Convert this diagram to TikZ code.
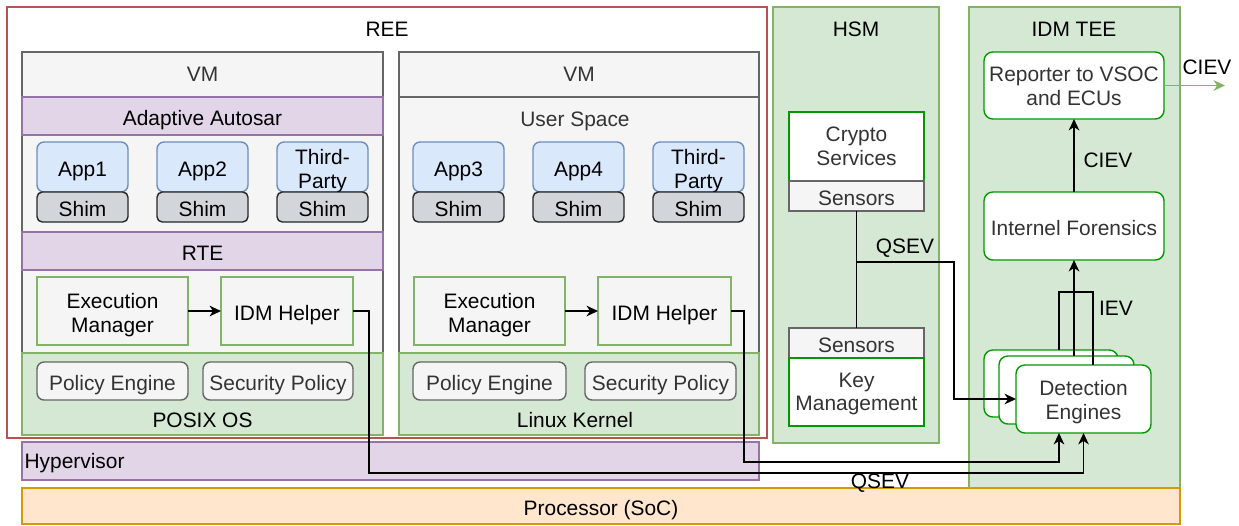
\documentclass[tikz,border=0pt]{standalone}
\usepackage{fontspec}
\setmainfont{Liberation Sans}
\usetikzlibrary{arrows.meta,positioning,calc}
\definecolor{reeline}{HTML}{B85450}
\definecolor{vmfill}{HTML}{F5F5F5}
\definecolor{vmline}{HTML}{666666}
\definecolor{purpfill}{HTML}{E1D5E7}
\definecolor{purpline}{HTML}{9673A6}
\definecolor{grnfill}{HTML}{D5E8D4}
\definecolor{grnline}{HTML}{82B366}
\definecolor{appfill}{HTML}{DAE8FC}
\definecolor{appline}{HTML}{6C8EBF}
\definecolor{shimfill}{HTML}{D2D6DB}
\definecolor{orgfill}{HTML}{FFE6CC}
\definecolor{orgline}{HTML}{D79B00}
\definecolor{hsmline}{HTML}{009900}
\definecolor{txtgray}{HTML}{333333}

% two centred lines, first one lifted by #1
\newcommand\twolines[3][6.8pt]{%
  \makebox[0pt]{\raisebox{#1}[0pt][0pt]{#2}}%
  \makebox[0pt]{\raisebox{\dimexpr#1-13.4pt\relax}[0pt][0pt]{#3}}}

\tikzset{
  every node/.style={font=\fontsize{11.9}{13.6}\selectfont,inner sep=0pt,outer sep=0pt},
  txt/.style={execute at begin node={\rule[-2.5pt]{0pt}{15.7pt}},
              execute at end node={\rule[-2.5pt]{0pt}{2.5pt}}},
  sz/.style 2 args={minimum width=#1*0.02cm,minimum height=#2*0.02cm},
  vmbox/.style={txt,draw=vmline,fill=vmfill},
  purplebar/.style={txt,draw=purpline,fill=purpfill},
  greenbar/.style={txt,draw=grnline,fill=grnfill},
  appbox/.style={txt,draw=appline,fill=appfill,rounded corners=4pt},
  shimbox/.style={txt,draw=black!85,fill=shimfill,rounded corners=3pt},
  helperbox/.style={txt,draw=grnline,fill=vmfill},
  policybox/.style={txt,draw=vmline,fill=vmfill,rounded corners=4pt,text=txtgray},
  hsmbox/.style={txt,draw=hsmline,fill=white,text=txtgray},
  sensorbox/.style={txt,draw=vmline,fill=vmfill,text=txtgray},
  teebox/.style={hsmbox,rounded corners=5pt},
  arr/.style={-{Stealth[length=6.5pt,width=6pt,inset=2pt]},line width=0.9pt},
  wire/.style={line width=0.9pt}
}

\begin{document}
\begin{tikzpicture}[x=0.02cm,y=-0.02cm,line width=0.8pt]
\useasboundingbox (0,0) rectangle (1239,525);

\node[draw=reeline,fill=white,sz={760}{431}] (ree) at (387,222.5) {};
\node (reeL) at (387,29) {REE};

\node[vmbox,sz={361}{383}] (vm1) at (202.5,243.5) {};
\node[vmbox,sz={361}{45}] (vm1h) at (202.5,74.5) {};
\node[text=txtgray] (vm1L) at (202.5,74) {VM};
\node[purplebar,sz={361}{38}] (aa) at (202.5,116) {Adaptive Autosar};
\node[appbox,sz={91}{50}] (app1) at (82.5,167) {App1};
\node[appbox,sz={91}{50}] (app2) at (202.5,167) {App2};
\node[appbox,sz={91}{50}] (tp1) at (322.5,167) {\twolines{Third-}{Party}};
\node[shimbox,sz={91}{30}] (shim1) at (82.5,207) {Shim};
\node[shimbox,sz={91}{30}] (shim2) at (202.5,207) {Shim};
\node[shimbox,sz={91}{30}] (shim3) at (322.5,207) {Shim};
\node[purplebar,sz={361}{38}] (rte) at (202.5,251) {RTE};
\node[helperbox,sz={151}{68}] (em1) at (112.5,311) {\twolines{Execution}{Manager}};
\node[helperbox,sz={132}{68}] (idm1) at (287,311) {IDM Helper};
\node[greenbar,sz={361}{82}] (posix) at (202.5,394) {};
\node (posixL) at (202.5,420) {POSIX OS};
\node[policybox,sz={151}{38}] (pe1) at (112.5,381) {Policy Engine};
\node[policybox,sz={150}{38}] (sp1) at (278,381) {Security Policy};

\node[vmbox,sz={360}{383}] (vm2) at (579,243.5) {};
\node[vmbox,sz={360}{45}] (vm2h) at (579,74.5) {};
\node[text=txtgray] (vm2L) at (579,74) {VM};
\node[text=txtgray] (us) at (575,121.5) {User Space};
\node[appbox,sz={91}{50}] (app3) at (458.5,167) {App3};
\node[appbox,sz={91}{50}] (app4) at (578.5,167) {App4};
\node[appbox,sz={91}{50}] (tp2) at (698.5,167) {\twolines{Third-}{Party}};
\node[shimbox,sz={91}{30}] (shim4) at (458.5,207) {Shim};
\node[shimbox,sz={91}{30}] (shim5) at (578.5,207) {Shim};
\node[shimbox,sz={91}{30}] (shim6) at (698.5,207) {Shim};
\node[helperbox,sz={151}{68}] (em2) at (489.5,311) {\twolines{Execution}{Manager}};
\node[helperbox,sz={133}{68}] (idm2) at (664.5,311) {IDM Helper};
\node[greenbar,sz={360}{82}] (linux) at (579,394) {};
\node (linuxL) at (575,420) {Linux Kernel};
\node[policybox,sz={153}{38}] (pe2) at (489.5,381) {Policy Engine};
\node[policybox,sz={151}{38}] (sp2) at (660.5,381) {Security Policy};

\node[purplebar,sz={737}{38}] (hyp) at (390.5,461) {};
\node[anchor=west] (hypL) at ([xshift=1.5pt,yshift=-1.2pt]hyp.west) {Hypervisor};

\node[greenbar,sz={166}{436}] (hsm) at (856,225) {};
\node (hsmL) at (856,29) {HSM};
\node[hsmbox,sz={135}{69}] (cs) at (856.5,146.5) {\twolines[8.1pt]{Crypto}{Services}};
\node[sensorbox,sz={135}{30}] (sen1) at (856.5,196) {Sensors};
\node[sensorbox,sz={135}{30}] (sen2) at (856.5,343) {Sensors};
\node[hsmbox,sz={135}{68}] (km) at (856.5,392) {\twolines[8.1pt]{Key}{Management}};

\node[greenbar,sz={211}{481}] (tee) at (1074.5,247.5) {};
\node (teeL) at (1074,29) {IDM TEE};
\node[teebox,sz={180}{67}] (reporter) at (1074,85.5) {\twolines[7.4pt]{Reporter to VSOC}{and ECUs}};
\node[teebox,sz={180}{68}] (forensics) at (1074,226) {Internel Forensics};
\node[teebox,sz={134}{67}] (de1) at (1051,383.5) {};
\node[teebox,sz={135}{68}] (de2) at (1066.5,390) {};
\node[teebox,sz={135}{68}] (de3) at (1083.5,399) {\twolines[7.2pt]{Detection}{Engines}};

\node[draw=orgline,fill=orgfill,txt,sz={1158}{36}] (soc) at (601,506) {Processor (SoC)};

\draw[arr] (em1) -- (idm1);
\draw[arr] (em2) -- (idm2);
\draw[arr] (idm1.east) -| (369,473) -| (de3.south);
\draw[arr] (idm2.east) -| (744,462) -| ($(de3.south)+(-24.5,0)$);
\node (qsev2) at (880,483) {QSEV};

\draw[wire] (sen1) -- (sen2);
\coordinate (qj) at (sen1.south |- 0,262);
\draw[arr] (qj) -| (954,399) -- (de3.west);
\node (qsev1) at (905,248) {QSEV};

\draw[wire] (de1.north -| 1059,0) |- (1093,292) -- (de3.north -| 1093,0);
\draw[arr] (de2.north -| forensics.south) -- (forensics.south);
\node (iev) at (1116,308) {IEV};
\draw[arr] (forensics) -- (reporter);
\node (ciev1) at (1108,160) {CIEV};
\coordinate (out) at (1225,85.5);
\draw[arr,draw=grnline,fill=grnline] (reporter.east) -- (out);
\node (ciev2) at (1207,67) {CIEV};
\end{tikzpicture}
\end{document}
